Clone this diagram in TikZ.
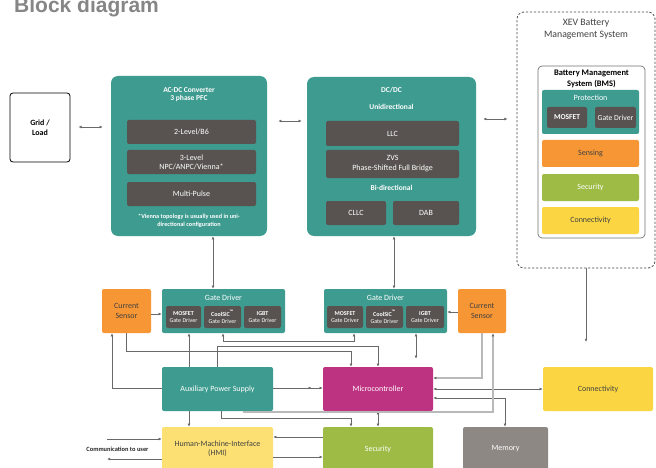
\documentclass[tikz,border=0pt]{standalone}
\usepackage{fontspec}
\setmainfont{Carlito}
\newfontfamily\titlefont{Liberation Sans}
\usetikzlibrary{arrows.meta,calc}
\definecolor{teal1}{RGB}{62,155,143}
\definecolor{dgray}{RGB}{88,83,80}
\definecolor{orng}{RGB}{247,150,52}
\definecolor{mgnt}{RGB}{190,50,130}
\definecolor{yelw}{RGB}{252,214,66}
\definecolor{lyelw}{RGB}{252,224,115}
\definecolor{grn}{RGB}{157,187,69}
\definecolor{memg}{RGB}{142,136,132}
\definecolor{lnc}{RGB}{105,105,105}
\definecolor{llnc}{RGB}{185,185,185}
\definecolor{txtd}{RGB}{65,65,65}
\begin{document}
\begin{tikzpicture}[x=1pt,y=-1pt,
  >={Latex[length=3.2pt,width=2.8pt]},
  box/.style={rectangle, rounded corners=2pt, inner sep=0pt, align=center, font=\fontsize{8}{9.5}\selectfont},
  tealb/.style={box, fill=teal1, text=white},
  darkb/.style={box, fill=dgray, text=white},
  orb/.style={box, fill=orng, text=txtd},
  mgb/.style={box, fill=mgnt, text=white},
  yeb/.style={box, fill=yelw, text=txtd},
  lyeb/.style={box, fill=lyelw, text=txtd},
  grb/.style={box, fill=grn, text=white},
  meb/.style={box, fill=memg, text=white},
  lbl/.style={inner sep=0pt, align=center},
  conn/.style={draw=lnc, line width=0.6pt},
  lconn/.style={draw=llnc, line width=1.1pt},
]
\useasboundingbox (0,0) rectangle (656,468);
\clip (0,0) rectangle (656,468);
\fill[white] (0,0) rectangle (656,468);

% title
\node[lbl, anchor=base west, text=gray!95, font=\titlefont\bfseries\fontsize{21}{24}\selectfont] (title) at (14,13) {Block diagram};

% Grid / Load
\node[box, draw=black, line width=0.8pt, fill=white, rounded corners=3pt, minimum width=60pt, minimum height=69pt, font=\bfseries\fontsize{8}{10}\selectfont] (grid) at (40,127.5) {Grid /\\Load};

% AC-DC converter
\node[tealb, rounded corners=7pt, minimum width=156pt, minimum height=160pt] (acdc) at (189,156) {};
\node[lbl, text=white, font=\bfseries\fontsize{7.5}{8.5}\selectfont] (acdct) at (189,94.5) {AC-DC Converter\\3 phase PFC};
\node[darkb, minimum width=129pt, minimum height=24pt] (ac1) at (191.5,132) {2-Level/B6};
\node[darkb, minimum width=129pt, minimum height=24pt, font=\fontsize{8}{8.8}\selectfont] (ac2) at (191.5,162) {3-Level\\NPC/ANPC/Vienna*};
\node[darkb, minimum width=129pt, minimum height=24pt] (ac3) at (191.5,194) {Multi-Pulse};
\node[lbl, text=white, font=\bfseries\fontsize{6.2}{8}\selectfont] (acnote) at (189,221) {*Vienna topology is usually used in uni-\\directional configuration};

% DC/DC
\node[tealb, rounded corners=7pt, minimum width=169pt, minimum height=159pt] (dcdc) at (391.5,156.5) {};
\node[lbl, text=white, font=\bfseries\fontsize{7.5}{9}\selectfont] (dct) at (391.5,90) {DC/DC};
\node[lbl, text=white, font=\bfseries\fontsize{7.5}{9}\selectfont] (dcu) at (391.5,107) {Unidirectional};
\node[darkb, minimum width=133pt, minimum height=25pt] (dc1) at (392.5,133.5) {LLC};
\node[darkb, minimum width=133pt, minimum height=28pt, font=\fontsize{8}{10}\selectfont] (dc2) at (392.5,164) {ZVS\\Phase-Shifted Full Bridge};
\node[lbl, text=white, font=\bfseries\fontsize{7.5}{9}\selectfont] (dcb) at (391.5,188) {Bi-directional};
\node[darkb, minimum width=60pt, minimum height=24pt] (dc3) at (356,213) {CLLC};
\node[darkb, minimum width=66pt, minimum height=24pt] (dc4) at (426,213) {DAB};

% XEV BMS
\node[draw=black!70, dash pattern=on 2.2pt off 1.8pt, line width=0.8pt, rounded corners=7pt, minimum width=138pt, minimum height=256pt, inner sep=0pt] (xev) at (586,140) {};
\node[lbl, text=txtd, font=\fontsize{9.8}{12}\selectfont] (xevt) at (586,29) {XEV Battery\\Management System};
\node[box, draw=black!55, line width=0.7pt, fill=white, rounded corners=4pt, minimum width=107pt, minimum height=172pt] (bms) at (591.5,152) {};
\node[lbl, text=black, font=\bfseries\fontsize{8.5}{11}\selectfont] (bmst) at (591.5,78.5) {Battery Management\\System (BMS)};
\node[tealb, minimum width=97pt, minimum height=44pt] (prot) at (590.5,112) {};
\node[lbl, text=white, font=\fontsize{8}{9}\selectfont] (prott) at (590.5,98) {Protection};
\node[darkb, minimum width=40pt, minimum height=21pt, font=\bfseries\fontsize{7.5}{9}\selectfont] (bmos) at (567,117.5) {MOSFET};
\node[darkb, minimum width=41pt, minimum height=21pt, font=\fontsize{7.7}{9}\selectfont] (bgd) at (615.5,117.5) {Gate Driver};
\node[orb, minimum width=97pt, minimum height=27pt] (bsen) at (590.5,153.5) {Sensing};
\node[grb, minimum width=97pt, minimum height=27pt] (bsec) at (590.5,187.5) {Security};
\node[yeb, minimum width=97pt, minimum height=27pt] (bcon) at (590.5,220.5) {Connectivity};

% Gate drivers and current sensors
\node[orb, minimum width=49pt, minimum height=44pt] (lcs) at (126.5,311) {Current\\Sensor};
\node[tealb, minimum width=123pt, minimum height=44pt] (lgd) at (223.5,311) {};
\node[lbl, text=white, font=\fontsize{8}{9}\selectfont] (lgdt) at (223.5,297.5) {Gate Driver};
\node[darkb, minimum width=35pt, minimum height=22pt, font=\fontsize{6}{7.5}\selectfont] (lg1) at (183.5,317) {\textbf{MOSFET}\\Gate Driver};
\node[darkb, minimum width=37pt, minimum height=22pt, font=\fontsize{6}{7.5}\selectfont] (lg2) at (222.5,317) {\textbf{CoolSiC\textsuperscript{™}}\\Gate Driver};
\node[darkb, minimum width=37pt, minimum height=22pt, font=\fontsize{6}{7.5}\selectfont] (lg3) at (262.5,317) {\textbf{IGBT}\\Gate Driver};

\node[tealb, minimum width=123pt, minimum height=44pt] (rgd) at (385.5,311) {};
\node[lbl, text=white, font=\fontsize{8}{9}\selectfont] (rgdt) at (385.5,297.5) {Gate Driver};
\node[darkb, minimum width=36pt, minimum height=22pt, font=\fontsize{6}{7.5}\selectfont] (rg1) at (345,317) {\textbf{MOSFET}\\Gate Driver};
\node[darkb, minimum width=37pt, minimum height=22pt, font=\fontsize{6}{7.5}\selectfont] (rg2) at (384.5,317) {\textbf{CoolSiC\textsuperscript{™}}\\Gate Driver};
\node[darkb, minimum width=38pt, minimum height=22pt, font=\fontsize{6}{7.5}\selectfont] (rg3) at (425,317) {\textbf{IGBT}\\Gate Driver};
\node[orb, minimum width=48pt, minimum height=44pt] (rcs) at (482,311) {Current\\Sensor};

% lower blocks
\node[tealb, minimum width=111pt, minimum height=44pt] (aps) at (217.5,389) {Auxiliary Power Supply};
\node[mgb, minimum width=110pt, minimum height=44pt] (micro) at (378,389) {Microcontroller};
\node[yeb, minimum width=110pt, minimum height=44pt] (conn) at (598,389) {Connectivity};
\node[lyeb, minimum width=111pt, minimum height=44pt] (hmi) at (217.5,449) {Human-Machine-Interface\\(HMI)};
\node[grb, minimum width=110pt, minimum height=44pt] (sec) at (378,449) {Security};
\node[meb, minimum width=85pt, minimum height=44pt] (mem) at (505.5,449) {Memory};
\node[lbl, text=black!85, font=\bfseries\fontsize{6.4}{8}\selectfont] (comm) at (117.5,449.5) {Communication to user};

% guide coordinates
\foreach \v in {112,126,189,213,217,221,223,244,351,354,378,394,416,482,493,505}
  \coordinate (X\v) at (\v,0);
\foreach \v in {119,121,127,312,314,341,346,351,378,388,389,398,412,418,437,457}
  \coordinate (Y\v) at (0,\v);
\coordinate (cu1) at (107,439);
\coordinate (cu2) at (107,459);
\coordinate (bmsend) at (586,342);

% connectors
\draw[conn,<->,shorten <=8pt,shorten >=8pt] (grid.east |- Y127) -- (acdc.west |- Y127);
\draw[conn,<->,shorten <=11pt,shorten >=5pt] (acdc.east |- Y121) -- (dcdc.west |- Y121);
\draw[conn,<->,shorten <=7pt,shorten >=9pt] (dcdc.east |- Y119) -- (xev.west |- Y119);
\draw[conn,<->] (acdc.south -| X213) -- (lgd.north -| X213);
\draw[conn,<->] (dcdc.south -| X394) -- (rgd.north -| X394);
\draw[conn,->] (lcs.east |- Y314) -- (lgd.west |- Y314);
\draw[conn,->] (rcs.west |- Y312) -- (rgd.east |- Y312);
\draw[conn,->] (xev.south -| bmsend) -- (bmsend);

\draw[conn,->] (aps.west |- Y388) -| (lcs.south -| X112);
\draw[conn,->] (lcs.south -| X126) |- (Y351 -| X351) -- (micro.north -| X351);
\draw[conn,->] (aps.north -| X189) -- (lgd.south -| X189);
\draw[conn,->] (aps.north -| X217) |- (Y346 -| X378) -- (micro.north -| X378);
\draw[conn,<->] (lgd.south -| X223) |- (Y341 -| X354) -- (rgd.south -| X354);
\draw[conn,<->,shorten >=8pt] (rgd.south -| X416) -- (micro.north -| X416);
\draw[conn,->] (aps.east |- Y388) -- ($(micro.west |- Y388)+(-11,0)$);
\draw[conn,->] (aps.east |- Y388) -- (micro.west |- Y388);
\draw[lconn,->,>={Latex[length=3.2pt,width=2.8pt,color=lnc]}] (rcs.south -| X482) |- (micro.east |- Y378);
\draw[conn,<->] (micro.east |- Y389) -- (conn.west |- Y389);
\draw[conn,<->] (micro.east |- Y398) -| (mem.north -| X505);
\draw[conn,<->] (micro.south) -- (sec.north);
\draw[conn,->] (aps.south -| X221) |- (Y418 -| X351) -- (sec.north -| X351);
\draw[lconn,->,>={Latex[length=3.2pt,width=2.8pt,color=lnc]}] (aps.south -| X244) |- (Y412 -| X493) -- (rcs.south -| X493);
\draw[conn,->] (aps.south -| X189) -- (hmi.north -| X189);
\draw[conn,->] (cu1) -- (hmi.west |- cu1);
\draw[conn,->] (hmi.west |- cu2) -- (cu2);
\draw[conn,->] (sec.west |- Y437) -- (hmi.east |- Y437);
\draw[conn,->] (hmi.east |- Y457) -- (sec.west |- Y457);
\end{tikzpicture}
\end{document}
